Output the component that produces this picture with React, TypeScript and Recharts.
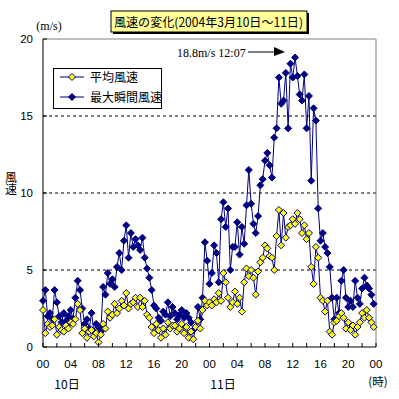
import React from 'react';
import { LineChart, Line, XAxis, YAxis, ReferenceLine } from 'recharts';

// 20-minute readings, 2004-03-10 00:00 to 2004-03-11 24:00 (hours 0..47.67)
const maxSpeed = [
  3.0, 3.7, 2.0, 2.2, 1.8, 3.7, 2.9, 2.0, 1.6, 2.2, 1.7, 2.0,
  2.4, 1.8, 3.2, 4.3, 3.7, 2.5, 1.5, 1.8, 1.2, 2.2, 1.0, 1.5,
  1.3, 1.0, 3.9, 3.4, 4.8, 4.1, 4.4, 3.9, 5.2, 6.1, 5.0, 6.9,
  7.9, 5.8, 7.4, 6.5, 7.0, 6.6, 6.3, 7.1, 5.8, 5.1, 4.5, 3.7,
  2.7, 2.5, 1.9, 1.7, 2.3, 2.1, 2.9, 2.0, 2.6, 2.2, 1.8, 2.1,
  2.4, 1.9, 2.2, 1.9, 1.6, 1.1, 1.3, 2.6, 1.8, 3.2, 6.8, 5.6,
  4.1, 4.8, 6.6, 6.1, 4.2, 8.3, 9.4, 7.8, 9.0, 5.0, 6.5, 6.5,
  8.1, 6.0, 7.8, 6.7, 9.2, 11.5, 9.3, 8.0, 7.4, 8.5, 10.5, 10.9,
  12.1, 12.6, 11.8, 11.0, 13.6, 14.2, 17.5, 15.8, 16.0, 17.8, 14.2, 18.4,
  17.5, 18.8, 17.6, 16.4, 16.0, 17.7, 14.2, 16.3, 10.8, 15.5, 14.7, 9.0,
  6.9, 7.4, 6.5, 6.1, 5.2, 3.2, 1.8, 3.2, 2.2, 4.3, 5.0, 3.2,
  2.6, 3.0, 2.6, 4.3, 3.2, 2.8, 3.8, 4.5, 4.0, 3.8, 3.4, 2.8,
];
const avgSpeed = [
  2.4, 0.9, 1.5, 1.3, 1.4, 1.8, 0.8, 1.3, 1.1, 1.0, 1.4, 1.2,
  1.6, 1.5, 1.8, 2.8, 2.4, 0.9, 1.2, 0.6, 1.0, 1.1, 0.7, 0.9,
  0.3, 0.8, 1.5, 1.2, 2.3, 1.9, 2.1, 2.8, 2.2, 2.5, 3.0, 2.7,
  3.5, 2.5, 2.8, 2.9, 3.2, 2.6, 3.2, 2.6, 3.0, 2.1, 1.9, 1.3,
  0.9, 1.5, 1.1, 0.6, 1.2, 0.8, 1.6, 1.2, 1.4, 1.4, 1.0, 1.2,
  1.5, 0.9, 1.3, 0.6, 1.0, 0.5, 1.3, 1.7, 1.2, 2.4, 3.0, 2.7,
  2.9, 2.7, 3.1, 2.9, 3.5, 3.0, 4.8, 4.2, 3.2, 2.6, 2.9, 3.6,
  2.8, 3.2, 2.3, 4.2, 5.1, 4.6, 5.0, 4.5, 3.4, 4.9, 5.5, 5.8,
  6.6, 6.4, 5.9, 5.8, 5.0, 7.2, 8.9, 6.6, 8.7, 7.1, 7.8, 7.9,
  8.3, 8.0, 8.7, 8.3, 7.4, 7.9, 7.0, 7.4, 5.2, 4.1, 6.5, 5.8,
  3.2, 3.0, 2.3, 3.0, 1.0, 0.8, 1.6, 1.7, 2.0, 2.2, 1.9, 1.2,
  1.6, 1.1, 1.4, 0.8, 1.3, 1.6, 2.2, 1.9, 2.4, 1.9, 1.6, 1.3,
];
const STEP_HOURS = 1 / 3;
const hourTicks = [0, 2, 4, 6, 8, 10, 12, 14, 16, 18, 20, 22, 24, 26, 28, 30, 32, 34, 36, 38, 40, 42, 44, 46, 48];
const hourLabels = ['00', '04', '08', '12', '16', '20', '00', '04', '08', '12', '16', '20', '00'];
const yTicks = [0, 5, 10, 15, 20];
const gridValues = [5, 10, 15];
const seriesNames = ['平均風速', '最大瞬間風速'];
const dayLabels = ['10日', '11日'];
const title = '風速の変化(2004年3月10日～11日)';
const peakNote = '18.8m/s 12:07';
const yTitle = '風速';

const data = maxSpeed.map((m, i) => ({ t: i * STEP_HOURS, max: m, avg: avgSpeed[i] }));

const NAVY = '#000080';
const YELLOW = '#FFFF00';
const SANS = '"Liberation Sans", Arial, sans-serif';
const JP = '"Noto Sans CJK JP", sans-serif';
const SERIF = '"Liberation Serif", serif';

const makeDiamond = (fill: string, stroke: string) => (props: any) => {
  const { cx, cy, index } = props;
  if (cx == null || cy == null) return <g key={`d-${index}`} />;
  const r = 3.5;
  return (
    <path
      key={`d-${index}`}
      d={`M${cx},${cy - r}L${cx + r},${cy}L${cx},${cy + r}L${cx - r},${cy}Z`}
      fill={fill}
      stroke={stroke}
      strokeWidth={1}
    />
  );
};

const XTick = (props: any) => {
  const { x, y, payload } = props;
  const v = payload.value as number;
  const label = v % 4 === 0 ? hourLabels[v / 4] : null;
  return (
    <g>
      <line x1={x} x2={x} y1={y} y2={y - 4} stroke="#000" />
      {label && (
        <text x={x} y={y + 21} textAnchor="middle" fontSize={11.5} fontFamily={SANS} fill="#000">
          {label}
        </text>
      )}
    </g>
  );
};

const YTick = (props: any) => {
  const { x, y, payload } = props;
  return (
    <g>
      <line x1={x} x2={x + 4} y1={y} y2={y} stroke="#000" />
      <text x={x - 10} y={y + 4} textAnchor="end" fontSize={11.5} fontFamily={SANS} fill="#000">
        {payload.value}
      </text>
    </g>
  );
};

export default function App() {
  return (
    <div style={{ position: 'absolute', left: 0, top: 0, width: 399, height: 399, background: '#fff' }}>
      <LineChart
        width={399}
        height={399}
        data={data}
        margin={{ top: 39, right: 23, bottom: 0, left: 0 }}
      >
        <XAxis
          type="number"
          dataKey="t"
          domain={[0, 48]}
          ticks={hourTicks}
          interval={0}
          height={52}
          tickSize={0}
          tickMargin={0}
          tickLine={false}
          axisLine={{ stroke: '#000' }}
          tick={<XTick />}
        />
        <YAxis
          type="number"
          domain={[0, 20]}
          ticks={yTicks}
          interval={0}
          width={43}
          tickSize={0}
          tickMargin={0}
          tickLine={false}
          axisLine={{ stroke: '#000' }}
          tick={<YTick />}
        />
        {gridValues.map((g) => (
          <ReferenceLine key={g} y={g} stroke="#000" strokeDasharray="3 3" />
        ))}
        <ReferenceLine y={20} stroke="#808080" />
        <ReferenceLine x={48} stroke="#808080" />
        <Line
          dataKey="max"
          stroke={NAVY}
          strokeWidth={1}
          dot={makeDiamond(NAVY, NAVY)}
          isAnimationActive={false}
        />
        <Line
          dataKey="avg"
          stroke={NAVY}
          strokeWidth={1}
          dot={makeDiamond(YELLOW, NAVY)}
          isAnimationActive={false}
        />
      </LineChart>
      <svg
        width={399}
        height={399}
        style={{ position: 'absolute', left: 0, top: 0, pointerEvents: 'none' }}
      >
        {/* title box */}
        <rect x={113} y={13} width={196} height={21} fill="#000" />
        <rect x={111} y={11} width={196} height={21} fill="#FFFF99" stroke="#000" strokeWidth={1} />
        <text
          x={114}
          y={26.5}
          fontSize={12.5}
          fontFamily={JP}
          fill="#000"
          textLength={189}
          lengthAdjust="spacingAndGlyphs"
        >
          {title}
        </text>
        {/* y unit */}
        <text x={49} y={30} textAnchor="middle" fontSize={12} fontFamily={SERIF} fill="#000">(m/s)</text>
        <text
          x={11}
          y={171}
          fontSize={12}
          fontFamily={JP}
          fill="#000"
          style={{ writingMode: 'vertical-rl' as any }}
        >
          {yTitle}
        </text>
        {/* peak annotation */}
        <text x={177} y={57} fontSize={12} fontFamily={SERIF} fill="#000">{peakNote}</text>
        <line x1={248} y1={52} x2={276} y2={52} stroke="#000" strokeWidth={1} />
        <path d="M274,47L285,52L274,56Z" fill="#000" />
        {/* legend */}
        <rect x={53.5} y={68.5} width={108} height={40} fill="#fff" stroke="#000" strokeWidth={1} />
        <line x1={60} x2={84} y1={77} y2={77} stroke={NAVY} />
        <path d="M72,73.5L75.5,77L72,80.5L68.5,77Z" fill={YELLOW} stroke={NAVY} />
        <text x={90} y={81.5} fontSize={12} fontFamily={JP} fill="#000">{seriesNames[0]}</text>
        <line x1={60} x2={84} y1={97} y2={97} stroke={NAVY} />
        <path d="M72,93.5L75.5,97L72,100.5L68.5,97Z" fill={NAVY} stroke={NAVY} />
        <text x={90} y={101.5} fontSize={12} fontFamily={JP} fill="#000">{seriesNames[1]}</text>
        {/* day labels */}
        <text x={67} y={389} textAnchor="middle" fontSize={12} fontFamily={JP} fill="#000">{dayLabels[0]}</text>
        <text x={223} y={389} textAnchor="middle" fontSize={12} fontFamily={JP} fill="#000">{dayLabels[1]}</text>
        <text x={378} y={386} textAnchor="middle" fontSize={11.5} fontFamily={JP} fill="#000">(時)</text>
      </svg>
    </div>
  );
}
